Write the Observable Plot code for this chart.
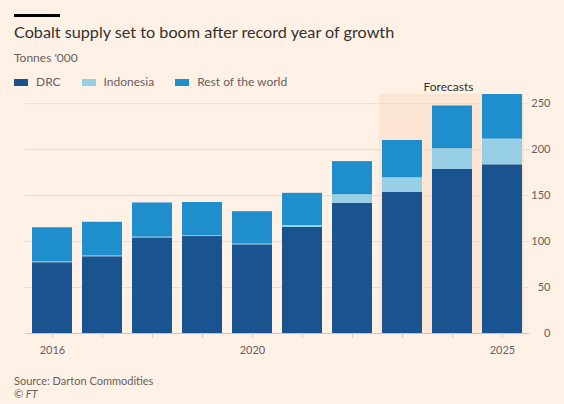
<!DOCTYPE html>
<html>
<head>
<meta charset="utf-8">
<script src="https://cdn.jsdelivr.net/npm/d3@7"></script>
<script src="https://cdn.jsdelivr.net/npm/@observablehq/plot@0.6"></script>
<style>
  html, body { margin: 0; padding: 0; background: #fff1e5; }
  body { width: 564px; height: 404px; position: relative; overflow: hidden; font-family: Lato, "Open Sans", sans-serif; }
  .abs { position: absolute; white-space: nowrap; line-height: 1; }
  #bar { left: 14px; top: 14px; width: 46px; height: 3px; background: #000; }
  #title { left: 14px; top: 24px; font-size: 16.2px; color: #33302e; }
  #subtitle { left: 14px; top: 52px; font-size: 12px; color: #66605c; }
  #legend { left: 14px; top: 76px; font-size: 12px; color: #66605c; display: flex; align-items: center; }
  .item { display: flex; align-items: center; margin-right: 21px; }
  .sw { width: 14px; height: 7px; margin-right: 8px; }
  #chart { position: absolute; left: 0; top: 70px; }
  #source { left: 14px; top: 375px; font-size: 11px; color: #66605c; }
  #ft { left: 14px; top: 388px; font-size: 11px; color: #66605c; font-style: italic; }
</style>
</head>
<body>
<div id="bar" class="abs"></div>
<div id="title" class="abs">Cobalt supply set to boom after record year of growth</div>
<div id="subtitle" class="abs">Tonnes '000</div>
<div id="legend" class="abs"></div>
<div id="chart"></div>
<div id="source" class="abs">Source: Darton Commodities</div>
<div id="ft" class="abs">© FT</div>
<script>
const years = [2016, 2017, 2018, 2019, 2020, 2021, 2022, 2023, 2024, 2025];
const drc = [77, 83.5, 104, 105.5, 96.5, 115.5, 141.5, 153.5, 178.5, 183.5];
const indonesia = [0.8, 0.8, 0.8, 0.8, 0.8, 2, 9.5, 16, 22.5, 28];
const restOfWorld = [37.2, 36.7, 37.2, 36.2, 35.2, 35, 36, 40.5, 46.5, 48.5];
const seriesNames = ["DRC", "Indonesia", "Rest of the world"];
const seriesColors = ["#1a5490", "#96cfe6", "#1e8fcc"];
const forecastYears = [2023, 2024, 2025];
const forecastLabel = "Forecasts";
const yTicks = [0, 50, 100, 150, 200, 250];
const xLabelYears = [2016, 2020, 2025];

const seriesValues = [drc, indonesia, restOfWorld];
const data = years.flatMap((yr, i) =>
  seriesNames.map((s, k) => ({year: yr, series: s, value: seriesValues[k][i]}))
);

// legend
const legend = document.getElementById("legend");
seriesNames.forEach((s, k) => {
  const it = document.createElement("div");
  it.className = "item";
  it.innerHTML = `<span class="sw" style="background:${seriesColors[k]}"></span><span>${s}</span>`;
  legend.appendChild(it);
});

const yTop = 260;
const shade = "#fde5d3";

const chart = Plot.plot({
  width: 564,
  height: 293,
  marginTop: 24,
  marginBottom: 30,
  marginLeft: 25,
  marginRight: 35,
  x: {type: "band", domain: years, paddingInner: 0.2, paddingOuter: 0.1, label: null},
  y: {domain: [0, yTop], label: null},
  color: {domain: seriesNames, range: seriesColors},
  style: {background: "transparent", fontFamily: "Lato, 'Open Sans', sans-serif", fontSize: "11px", color: "#66605c"},
  marks: [
    Plot.barY(forecastYears.slice(0, 2), {x: d => d, y1: () => 0, y2: () => yTop, fill: shade, insetLeft: -3, insetRight: -7}),
    Plot.barY(forecastYears.slice(2), {x: d => d, y1: () => 0, y2: () => yTop, fill: shade, insetLeft: -3, insetRight: -2}),
    Plot.gridY(yTicks.slice(1), {stroke: "#e9dccf", strokeOpacity: 1}),
    Plot.barY(data, {x: "year", y: "value", fill: "series"}),
    Plot.ruleY([0], {stroke: "#cfc4ba"}),
    Plot.axisX({ticks: years, tickFormat: d => xLabelYears.includes(d) ? String(d) : "", tickSize: 5, tickPadding: 8, stroke: "#d6cbc1", fill: "#66605c"}),
    Plot.axisY(yTicks, {anchor: "right", tickSize: 0, tickPadding: 21, textAnchor: "end", fill: "#66605c"}),
    Plot.text([forecastLabel], {x: () => forecastYears[1], y: () => yTop, dy: -7, dx: -4, text: d => d, fill: "#33302e", fontSize: 12})
  ]
});
document.getElementById("chart").appendChild(chart);
</script>
</body>
</html>
